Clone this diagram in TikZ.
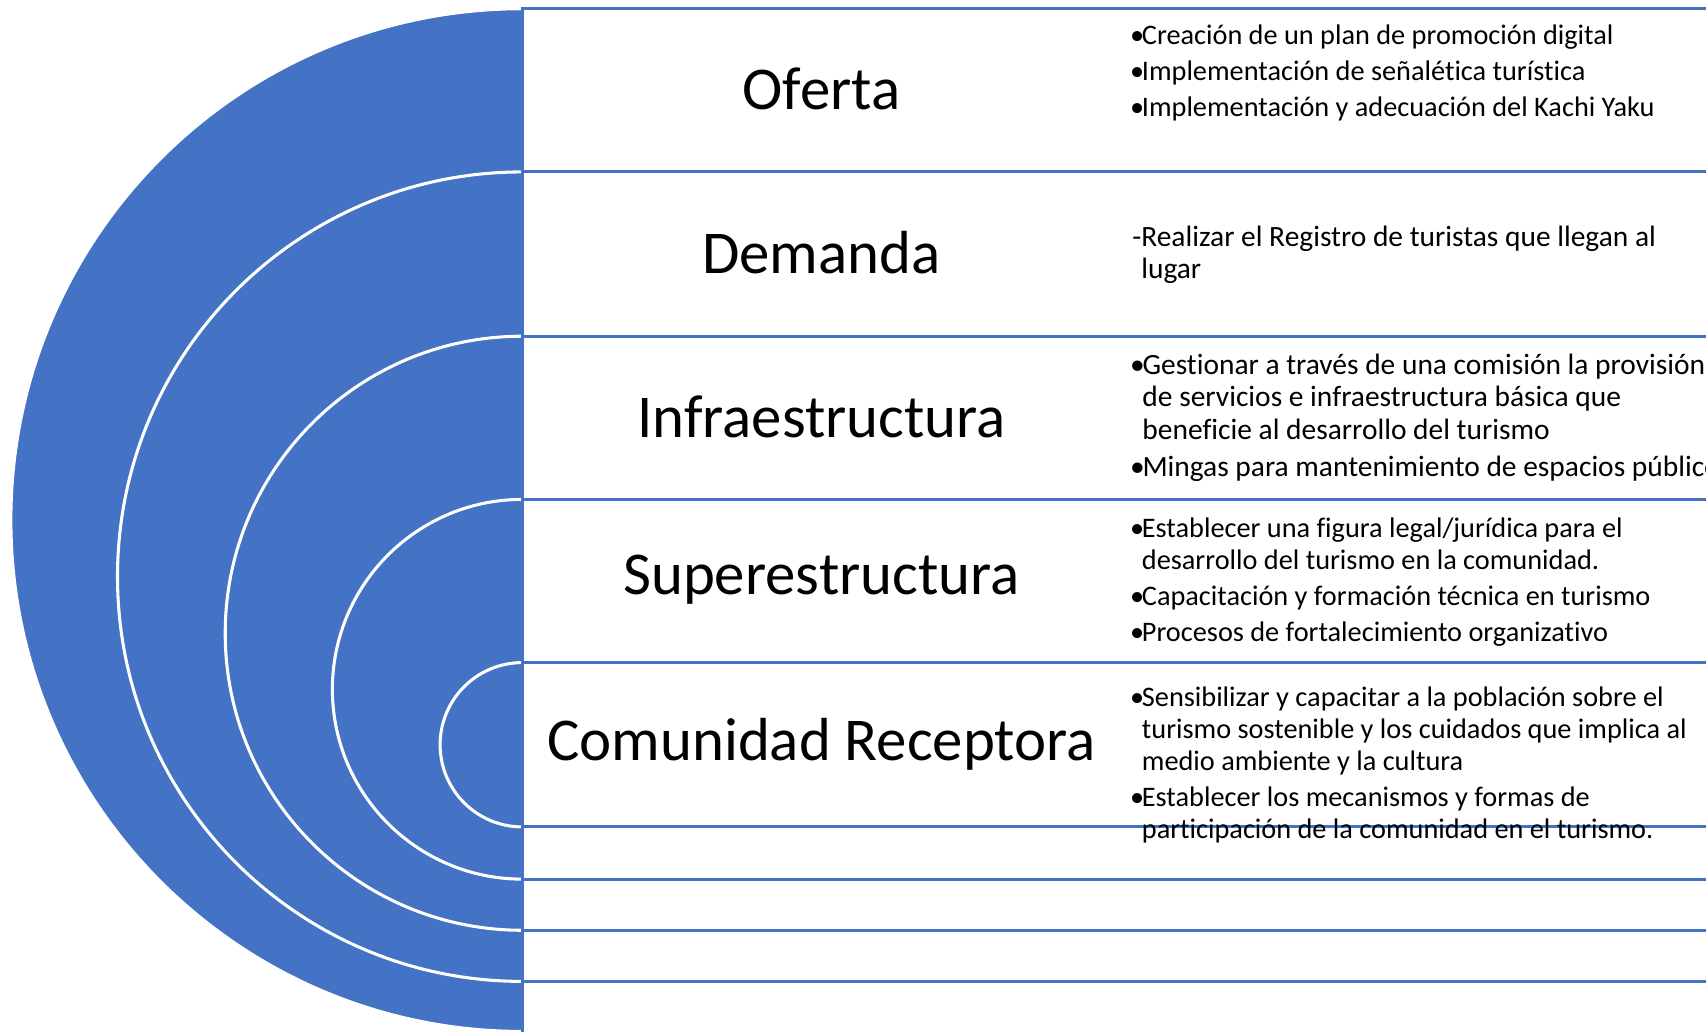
\documentclass[tikz,border=0pt]{standalone}
\usepackage{fontspec}
\setmainfont{Carlito}[Ligatures=NoCommon]
\definecolor{ringblue}{HTML}{4472C4}
\newcommand{\bul}{•\kern-0.6pt}

\begin{document}
\begin{tikzpicture}[
        x=0.1mm, y=-0.1mm,
        ring/.style={fill=ringblue, draw=white, line width=0.8pt},
        band/.style={draw=ringblue, fill=white, line width=0.8pt},
        title/.style={font=\fontsize{15.9}{19}\selectfont},
        desc/.style={font=\fontsize{7.4}{8.3}\selectfont, align=left, anchor=west, inner sep=0pt},
        bigdesc/.style={desc, font=\fontsize{7.7}{8.5}\selectfont}
    ]
        \useasboundingbox (0,0) rectangle (1568,948);
        \clip (0,0) rectangle (1568,948);

        % half rings, outermost first
        \draw[ring] (480,8) arc[start angle=270, end angle=90, radius=470];
        \draw[ring] (480,158) arc[start angle=270, end angle=90, radius=372];
        \draw[ring] (480,309) arc[start angle=270, end angle=90, radius=273];
        \draw[ring] (480,459) arc[start angle=270, end angle=90, radius=174.5];
        \draw[ring] (480,609) arc[start angle=270, end angle=90, radius=75.5];

        % bands
        \draw[band] (480,8) rectangle (1600,980);
        \draw[band] (480,158) rectangle (1600,902);
        \draw[band] (480,309) rectangle (1600,855);
        \draw[band] (480,459) rectangle (1600,808);
        \draw[band] (480,609) rectangle (1600,760);

        \node[title] (oferta) at (755,82) {Oferta};
        \node[title] (demanda) at (755,232) {Demanda};
        \node[title] (infra) at (755,383) {Infraestructura};
        \node[title] (super) at (755,533) {Superestructura};
        \node[title] (comunidad) at (755,684) {Comunidad Receptora};

        \node[desc] (oferta_txt) at (1038,67) {\bul Creación de un plan de promoción digital\\[1.2pt]
            \bul Implementación de señalética turística\\[1.2pt]
            \bul Implementación y adecuación del Kachi Yaku};
        \node[bigdesc] (demanda_txt) at (1040,234) {-Realizar el Registro de turistas que llegan al\\
            \hphantom{-}lugar};
        \node[bigdesc] (infra_txt) at (1038,384) {\bul Gestionar a través de una comisión la provisión\\
            \hphantom{\bul}de servicios e infraestructura básica que\\
            \hphantom{\bul}beneficie al desarrollo del turismo\\[1.2pt]
            \bul Mingas para mantenimiento de espacios públicos};
        \node[desc] (super_txt) at (1038,535) {\bul Establecer una figura legal/jurídica para el\\
            \hphantom{\bul}desarrollo del turismo en la comunidad.\\[1.2pt]
            \bul Capacitación y formación técnica en turismo\\[1.2pt]
            \bul Procesos de fortalecimiento organizativo};
        \node[desc] (comunidad_txt) at (1038,703) {\bul Sensibilizar y capacitar a la población sobre el\\
            \hphantom{\bul}turismo sostenible y los cuidados que implica al\\
            \hphantom{\bul}medio ambiente y la cultura\\[1.2pt]
            \bul Establecer los mecanismos y formas de\\
            \hphantom{\bul}participación de la comunidad en el turismo.};
    \end{tikzpicture}
\end{document}
